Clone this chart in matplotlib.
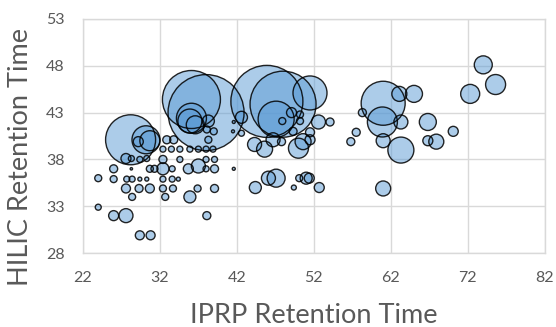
import numpy as np
import matplotlib
matplotlib.use("Agg")
from matplotlib import pyplot as plt

# IPRP retention time (x), HILIC retention time (y), bubble size
iprp = [
    28.2, 30.2, 30.7, 29.2, 27.6, 28.3, 29.4, 30.3, 26.0, 28.3,
    30.7, 31.3, 32.4, 33.6, 35.7, 37.0, 38.0, 39.1, 41.6, 24.0,
    26.0, 27.7, 28.4, 29.4, 30.3, 32.4, 33.6, 34.4, 27.6, 29.3,
    30.7, 32.4, 33.7, 36.9, 39.1, 28.4, 32.7, 35.9, 24.0, 26.0,
    27.6, 38.1, 29.4, 30.8, 32.4, 33.5, 34.6, 35.9, 37.0, 38.0,
    38.9, 32.4, 34.6, 38.0, 39.1, 32.9, 33.8,
    36.1, 38.0, 36.1, 35.9, 36.6, 38.3, 38.1, 39.0, 38.3,
    45.9, 48.0, 51.5, 47.1, 49.1, 50.2, 50.2, 47.9, 52.6, 54.1,
    42.6, 41.6, 42.6, 41.5, 44.3, 45.6, 46.7, 47.8, 49.3, 50.0,
    50.6, 51.5, 51.5, 44.4, 46.1, 47.1, 49.4, 50.1, 51.0, 51.4,
    52.7,
    57.5, 56.8, 58.3, 61.0, 60.9, 63.1, 65.0, 63.3, 61.0, 63.3,
    61.0, 66.8, 66.8, 67.9, 70.1, 72.3, 74.0, 75.6,
]
hilic = [
    40.1, 40.1, 40.0, 39.9, 38.1, 38.1, 38.0, 38.1, 37.0, 37.0,
    37.0, 37.0, 37.0, 37.0, 37.0, 37.3, 37.0, 37.0, 37.0, 36.0,
    35.9, 35.9, 35.9, 35.9, 35.9, 35.9, 35.9, 35.9, 34.9, 34.9,
    34.9, 34.9, 34.9, 34.9, 34.9, 34.0, 34.0, 34.0, 32.9, 32.0,
    32.0, 32.0, 29.9, 29.9, 39.1, 39.1, 39.1, 39.1, 39.1, 39.1,
    39.1, 38.0, 38.0, 38.0, 38.0, 40.1, 40.1,
    44.4, 43.0, 42.4, 42.1, 41.7, 42.1, 41.2, 41.0, 40.1,
    44.2, 43.9, 45.1, 42.3, 43.0, 42.8, 42.1, 42.1, 42.0, 42.0,
    42.5, 42.0, 40.8, 41.0, 39.6, 39.1, 40.1, 39.9, 41.0, 39.2,
    39.9, 40.1, 40.9, 35.0, 36.0, 36.0, 35.0, 36.0, 36.0, 36.0,
    35.0,
    40.9, 39.9, 43.0, 44.0, 42.0, 45.0, 45.0, 42.0, 40.0, 39.0,
    34.9, 42.0, 40.0, 39.9, 41.0, 45.0, 48.1, 46.0,
]
bubble_size = [
    25, 14, 10, 5, 5, 3, 3, 3, 4, 1.2,
    3.5, 3.5, 6, 3, 5, 7, 3, 4, 1.5, 3.5,
    3.5, 3, 3, 2, 2, 3, 3, 2, 4.5, 4,
    4.5, 3.5, 3.5, 3.5, 4, 3.5, 3.5, 6, 3, 5,
    7, 4, 4.5, 4.5, 3, 3, 3, 3, 3, 3,
    3, 4, 3, 3, 3, 4, 4,
    29, 38, 15, 12, 9, 6, 3.5, 3.5, 3.5,
    36, 33, 17, 18, 5, 3.5, 3.5, 3.5, 7, 4,
    6, 1.5, 3, 1.5, 7, 8, 7, 4, 4, 10,
    8, 5, 4.5, 6, 7, 9, 2.5, 3.5, 6, 5,
    5,
    4, 4, 4, 22, 15, 7.5, 8.5, 7, 7, 13,
    7.5, 8.5, 5, 7.5, 5, 9.5, 9, 10,
]

text_color = "#595959"
grid_color = "#D9D9D9"
plt.rcParams["font.family"] = ["Lato", "DejaVu Sans"]

fig = plt.figure(figsize=(5.56, 3.27), dpi=100)
ax = fig.add_axes([0.149, 0.226, 0.831, 0.716])

# bubble radius in pixels -> marker area in points^2
s = (1.44 * np.array(bubble_size)) ** 2
ax.scatter(iprp, hilic, s=s, facecolor="#5B9BD5", alpha=0.5,
           edgecolor="none", zorder=3)
ax.scatter(iprp, hilic, s=s, facecolor="none", edgecolor="black",
           linewidth=1.0, alpha=0.85, zorder=4)

ax.set_xlim(22, 82)
ax.set_ylim(28, 53)
ax.set_xticks(np.arange(22, 83, 10))
ax.set_yticks(np.arange(28, 54, 5))
ax.grid(True, color=grid_color, linewidth=1.0, zorder=0)
ax.set_axisbelow(True)
for sp in ax.spines.values():
    sp.set_color(grid_color)
    sp.set_linewidth(1.0)
ax.tick_params(length=0, labelsize=11.5, labelcolor=text_color, pad=13)

ax.set_xlabel("IPRP Retention Time", fontsize=19.5, color=text_color)
ax.set_ylabel("HILIC Retention Time", fontsize=19.5, color=text_color)
ax.xaxis.set_label_coords(0.5, -0.215)
ax.yaxis.set_label_coords(-0.108, 0.41)

fig.savefig("out.png", dpi=100)
